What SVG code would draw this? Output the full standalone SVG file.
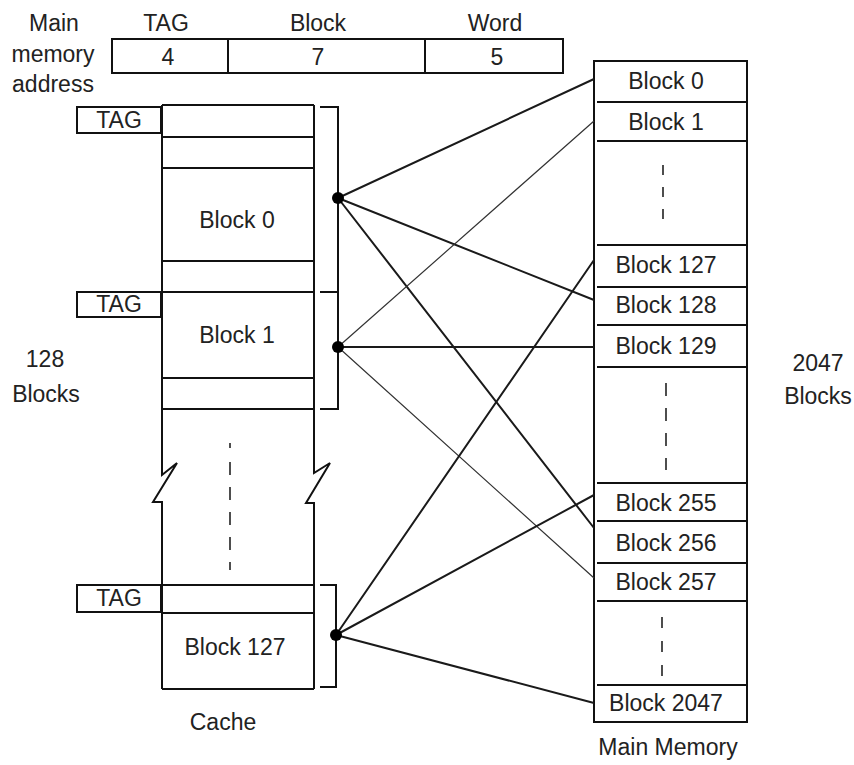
<svg xmlns="http://www.w3.org/2000/svg" width="854" height="765" viewBox="0 0 854 765">
<style>
text{font-family:"Liberation Sans",Arial,sans-serif;font-size:23px;fill:#222;text-anchor:middle}
.b{fill:#fff;stroke:#111;stroke-width:2}
.l{fill:none;stroke:#111;stroke-width:2}
.c{fill:none;stroke:#1a1a1a;stroke-width:2}
.t{fill:none;stroke:#333;stroke-width:1.2}
.d{fill:none;stroke:#222;stroke-width:1.6}
.dot{fill:#000}
</style>
<rect width="854" height="765" fill="#fff"/>

<g id="address">
<text x="54" y="31">Main</text>
<text x="53" y="62">memory</text>
<text x="53" y="92">address</text>
<text x="166" y="31">TAG</text>
<text x="318" y="31">Block</text>
<text x="495" y="31">Word</text>
<rect class="b" x="112" y="39" width="451" height="34"/>
<path class="l" d="M228,39V73M425,39V73"/>
<text x="168" y="65">4</text>
<text x="318" y="65">7</text>
<text x="497" y="65">5</text>
</g>

<g id="cache">
<path class="l" d="M162,105H314M162,137H314M162,168H314M162,261H314M162,292H314M162,378H314M162,409H314M162,585H314M162,613H314M162,689H314"/>
<path class="l" d="M162,105V475L177,463L153,502H162V689"/>
<path class="l" d="M314,105V473L330,463L306,503H314V689"/>
<path class="d" d="M230,443V448M230,462V570" stroke-dasharray="13 12"/>
<text x="237" y="228">Block 0</text>
<text x="237" y="343">Block 1</text>
<text x="235" y="655">Block 127</text>
<text x="223" y="730">Cache</text>
</g>

<g id="tag0"><rect class="b" x="77" y="107" width="84" height="26"/><text x="119" y="128">TAG</text></g>
<g id="tag1"><rect class="b" x="77" y="292" width="84" height="25"/><text x="119" y="312">TAG</text></g>
<g id="tag127"><rect class="b" x="77" y="585" width="84" height="27"/><text x="119" y="606">TAG</text></g>

<g id="brackets">
<path class="l" d="M320,107H338V409H320M320,292H338"/>
<path class="l" d="M320,585H336V687H320"/>
</g>

<g id="label128">
<text x="45" y="367">128</text>
<text x="46" y="402">Blocks</text>
</g>

<g id="mainmemory">
<rect class="b" x="594" y="61" width="153" height="661"/>
<path class="l" d="M597,102H747M597,141H747M597,245H747M597,287H747M597,325H747M597,367H747M597,483H747M597,521H747M597,563H747M597,601H747M597,685H747"/>
<path class="d" d="M663,165V223" stroke-dasharray="10 12"/>
<path class="d" d="M666,383V470" stroke-dasharray="13 12"/>
<path class="d" d="M662,617V677" stroke-dasharray="11 13"/>
<text x="666" y="89">Block 0</text>
<text x="666" y="130">Block 1</text>
<text x="666" y="273">Block 127</text>
<text x="666" y="313">Block 128</text>
<text x="666" y="354">Block 129</text>
<text x="666" y="511">Block 255</text>
<text x="666" y="551">Block 256</text>
<text x="666" y="590">Block 257</text>
<text x="666" y="711">Block 2047</text>
<text x="668" y="755">Main Memory</text>
</g>

<g id="label2047">
<text x="818" y="371">2047</text>
<text x="818" y="404">Blocks</text>
</g>

<g id="connectors">
<path class="c" d="M338,198L594,79M338,198L594,300M338,198L594,528"/>
<path class="t" d="M338,347L594,121M338,347L594,578"/>
<path class="c" d="M338,347H594"/>
<path class="c" d="M336,635L594,260M336,635L594,495M336,635L594,703"/>
<circle class="dot" cx="338" cy="198" r="6"/>
<circle class="dot" cx="338" cy="347" r="6"/>
<circle class="dot" cx="336" cy="635" r="6"/>
</g>
</svg>
